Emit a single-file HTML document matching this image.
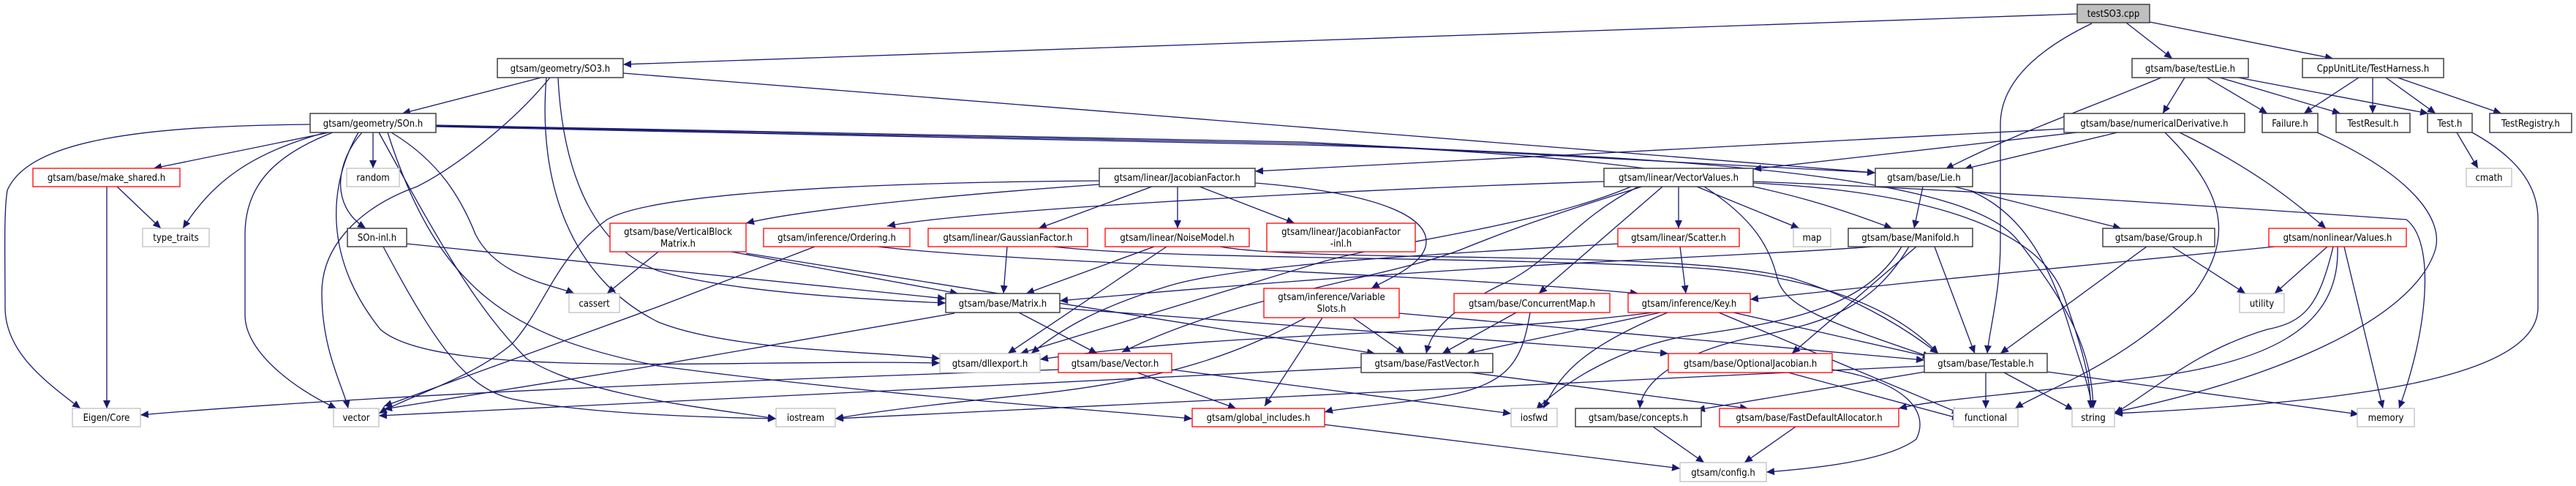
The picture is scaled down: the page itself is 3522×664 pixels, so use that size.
<!DOCTYPE html>
<html><head><meta charset="utf-8">
<style>
html,body{margin:0;padding:0;background:#fff;}
svg{display:block;}
text{font-family:"DejaVu Sans Condensed","DejaVu Sans","Liberation Sans",sans-serif;font-size:13px;fill:#000;}
.e{fill:none;stroke:#191970;stroke-width:1.3;marker-end:url(#a);}
.n{fill:#fff;stroke:#404040;stroke-width:1.5;}
.r{fill:#fff;stroke:#ff0000;stroke-width:1.3;}
.g{fill:#fff;stroke:#bfbfbf;stroke-width:1.3;}
</style></head>
<body>
<svg width="3522" height="664" viewBox="0 0 3522 664" xmlns="http://www.w3.org/2000/svg">
<defs>
<marker id="a" markerUnits="userSpaceOnUse" markerWidth="12" markerHeight="10" refX="11" refY="5" orient="auto">
<path d="M0,0 L11,5 L0,10 z" fill="#191970"/>
</marker>
</defs>
<g>
<!-- edges -->
<path class="e" d="M2840,19 L852,88"/>
<path class="e" d="M2907,31 L2970,80"/>
<path class="e" d="M2939,30 L3190,80"/>
<path class="e" d="M2860,32 C2760,80 2735,130 2735,170 L2735,330 C2735,400 2720,450 2717,483"/>
<path class="e" d="M740,106 L550,155"/>
<path class="e" d="M752,106 C700,170 620,230 570,255 C500,280 440,330 440,400 C440,480 470,530 476,558"/>
<path class="e" d="M747,106 C735,250 780,380 900,440 C1000,480 1200,480 1285,490"/>
<path class="e" d="M763,106 C770,250 820,340 900,370 C1000,400 1200,410 1293,414"/>
<path class="e" d="M852,100 L2564,236"/>
<path class="e" d="M424,170 C200,172 40,190 10,260 C5,290 7,350 7,420 C7,480 60,520 110,558"/>
<path class="e" d="M450,181 L210,230"/>
<path class="e" d="M445,181 C340,210 290,250 250,312"/>
<path class="e" d="M455,181 C380,210 335,250 335,320 L335,430 C335,480 400,530 460,558"/>
<path class="e" d="M495,181 C460,220 450,280 500,312"/>
<path class="e" d="M510,181 L510,230"/>
<path class="e" d="M535,181 C600,220 630,270 650,320 C680,380 760,390 785,401"/>
<path class="e" d="M518,181 C600,330 650,420 720,490 C800,540 950,555 1061,572"/>
<path class="e" d="M490,181 C450,250 440,350 520,450 C600,520 1000,490 1285,496"/>
<path class="e" d="M530,181 C600,400 700,460 900,500 C1200,540 1500,560 1630,572"/>
<path class="e" d="M596,171 L1780,194 L2564,236"/>
<path class="e" d="M596,172 L1780,196 C2300,215 2450,260 2587,312"/>
<path class="e" d="M596,173 L1780,198 C2400,215 2700,250 2760,330 C2830,420 2860,480 2862,558"/>
<path class="e" d="M146,255 L146,558"/>
<path class="e" d="M160,255 L220,312"/>
<path class="e" d="M556,333 L1293,408"/>
<path class="e" d="M524,337 C600,480 640,530 700,545 C800,565 950,570 1061,572"/>
<path class="e" d="M1503,252 C1250,270 1080,290 1020,305"/>
<path class="e" d="M1503,247 C1100,250 880,270 830,300 C760,350 745,420 700,470 C640,520 560,540 518,565"/>
<path class="e" d="M1575,255 L1420,312"/>
<path class="e" d="M1610,255 L1610,312"/>
<path class="e" d="M1640,255 L1770,305"/>
<path class="e" d="M1716,250 C1900,265 1950,300 1950,330 C1950,360 1900,380 1875,394"/>
<path class="e" d="M1000,344 L1310,401"/>
<path class="e" d="M900,344 L830,401"/>
<path class="e" d="M1020,346 L1880,483"/>
<path class="e" d="M1114,337 L900,419 L525,555"/>
<path class="e" d="M1200,337 C1400,360 1900,370 2240,401"/>
<path class="e" d="M1377,337 L1372,401"/>
<path class="e" d="M1440,337 C1600,355 2000,350 2300,365 C2500,375 2600,430 2650,483"/>
<path class="e" d="M1578,337 L1403,401"/>
<path class="e" d="M1595,337 L1378,483"/>
<path class="e" d="M1668,337 C1800,360 2300,340 2450,380 C2550,410 2620,460 2650,483"/>
<path class="e" d="M1393,427 L1500,483"/>
<path class="e" d="M1305,428 L880,502 L525,559"/>
<path class="e" d="M1449,421 L2281,483"/>
<path class="e" d="M1555,509 L1690,558"/>
<path class="e" d="M1447,505 C1000,520 500,540 192,567"/>
<path class="e" d="M1602,505 L2066,565"/>
<path class="e" d="M1850,434 L1920,483"/>
<path class="e" d="M1808,434 L1729,555"/>
<path class="e" d="M1785,434 C1700,480 1600,520 1400,540 C1250,555 1180,565 1142,572"/>
<path class="e" d="M1913,428 L2631,492"/>
<path class="e" d="M2193,248 C1800,260 1300,290 1213,309"/>
<path class="e" d="M2295,255 L2295,312"/>
<path class="e" d="M2320,255 L2460,312"/>
<path class="e" d="M2273,255 L2104,401"/>
<path class="e" d="M2240,255 C2150,300 2120,360 2050,390 C1970,430 1955,460 1950,483"/>
<path class="e" d="M2245,255 C2100,300 2050,320 2000,340 C1900,380 1700,400 1534,481"/>
<path class="e" d="M2230,255 C2100,310 1900,330 1800,360 C1600,420 1500,450 1395,483"/>
<path class="e" d="M2330,255 C2400,300 2420,340 2430,380 C2440,420 2500,440 2640,488"/>
<path class="e" d="M2397,250 C2600,260 2780,300 2820,400 C2845,470 2860,520 2858,558"/>
<path class="e" d="M2397,248 C2700,260 3000,280 3290,300 C3330,330 3320,450 3280,558"/>
<path class="e" d="M2629,255 L2617,312"/>
<path class="e" d="M2672,255 L2900,312"/>
<path class="e" d="M2697,262 C2760,290 2800,350 2830,450 C2845,500 2858,530 2860,558"/>
<path class="e" d="M2560,337 C2400,350 2000,360 1449,411"/>
<path class="e" d="M2645,337 L2700,483"/>
<path class="e" d="M2620,337 L2450,483"/>
<path class="e" d="M2610,337 C2560,420 2500,440 2400,460 C2300,480 2245,520 2242,558"/>
<path class="e" d="M2600,337 C2550,420 2450,440 2300,460 C2200,480 2130,530 2100,560"/>
<path class="e" d="M2935,337 L2735,483"/>
<path class="e" d="M2970,337 L3070,401"/>
<path class="e" d="M3110,337 L2622,385 L2393,409"/>
<path class="e" d="M3182,337 L3110,401"/>
<path class="e" d="M3190,337 C3170,420 3150,440 3100,450 C3000,480 2950,530 2891,565"/>
<path class="e" d="M3205,337 L3258,558"/>
<path class="e" d="M3196,337 C3200,450 3100,500 2900,520 C2750,540 2650,545 2596,558"/>
<path class="e" d="M2822,176 L1716,234"/>
<path class="e" d="M2840,181 L2397,231"/>
<path class="e" d="M2895,181 L2685,231"/>
<path class="e" d="M2980,181 C3080,230 3130,270 3180,312"/>
<path class="e" d="M2960,181 C3050,270 3050,330 3000,400 C2900,500 2800,530 2755,558"/>
<path class="e" d="M2987,106 L2957,155"/>
<path class="e" d="M2955,106 C2850,150 2760,180 2660,231"/>
<path class="e" d="M3017,106 L3100,155"/>
<path class="e" d="M3035,106 L3200,155"/>
<path class="e" d="M3060,106 L3320,155"/>
<path class="e" d="M3225,106 L3150,155"/>
<path class="e" d="M3244,106 L3244,155"/>
<path class="e" d="M3262,106 L3330,155"/>
<path class="e" d="M3278,106 L3420,155"/>
<path class="e" d="M3359,181 L3388,230"/>
<path class="e" d="M3380,181 C3450,220 3470,260 3470,300 L3470,420 C3470,520 3200,550 2891,565"/>
<path class="e" d="M3168,181 C3300,240 3340,300 3330,340 C3300,440 3100,520 2891,563"/>
<path class="e" d="M2297,337 L2305,401"/>
<path class="e" d="M2212,333 C2000,345 1700,360 1600,390 C1500,420 1450,450 1410,483"/>
<path class="e" d="M2073,427 L1972,483"/>
<path class="e" d="M2092,427 C2080,500 2060,530 1950,545 C1880,555 1830,558 1811,563"/>
<path class="e" d="M2260,427 C2000,460 1700,450 1422,491"/>
<path class="e" d="M2270,427 L2005,483"/>
<path class="e" d="M2370,427 L2640,488"/>
<path class="e" d="M2280,427 C2150,480 2130,520 2110,558"/>
<path class="e" d="M2350,427 L2680,565"/>
<path class="e" d="M2010,509 L2390,558"/>
<path class="e" d="M1861,502 L518,568"/>
<path class="e" d="M2445,509 L2680,572"/>
<path class="e" d="M2505,505 C2600,520 2640,560 2620,600 C2580,630 2480,640 2415,645"/>
<path class="e" d="M2715,509 L2715,558"/>
<path class="e" d="M2740,509 L2835,560"/>
<path class="e" d="M2799,508 L3225,566"/>
<path class="e" d="M2631,500 C2300,520 1500,550 1142,572"/>
<path class="e" d="M2650,505 L2320,560"/>
<path class="e" d="M2260,583 L2330,632"/>
<path class="e" d="M2455,583 L2385,632"/>
<path class="e" d="M1810,580 L2297,640"/>
</g>
<g>
<!-- nodes -->
<rect x="2840" y="6" width="99" height="25" fill="#bfbfbf" stroke="#404040" stroke-width="1.5"/><text x="2889.5" y="23" text-anchor="middle">testSO3.cpp</text>
<rect class="n" x="680" y="80" width="172" height="26"/><text x="766" y="98" text-anchor="middle">gtsam/geometry/SO3.h</text>
<rect class="n" x="2915" y="80" width="159" height="26"/><text x="2994.5" y="98" text-anchor="middle">gtsam/base/testLie.h</text>
<rect class="n" x="3148" y="80" width="193" height="26"/><text x="3244.5" y="98" text-anchor="middle">CppUnitLite/TestHarness.h</text>
<rect class="n" x="424" y="155" width="172" height="26"/><text x="510" y="173" text-anchor="middle">gtsam/geometry/SOn.h</text>
<rect class="n" x="2822" y="155" width="247" height="26"/><text x="2945.5" y="173" text-anchor="middle">gtsam/base/numericalDerivative.h</text>
<rect class="n" x="3093" y="155" width="76" height="26"/><text x="3131" y="173" text-anchor="middle">Failure.h</text>
<rect class="n" x="3194" y="155" width="101" height="26"/><text x="3244.5" y="173" text-anchor="middle">TestResult.h</text>
<rect class="n" x="3319" y="155" width="61" height="26"/><text x="3349.5" y="173" text-anchor="middle">Test.h</text>
<rect class="n" x="3404" y="155" width="112" height="26"/><text x="3460" y="173" text-anchor="middle">TestRegistry.h</text>
<rect class="r" x="45" y="230" width="201" height="25"/><text x="145.5" y="247" text-anchor="middle">gtsam/base/make_shared.h</text>
<rect class="g" x="474" y="230" width="72" height="25"/><text x="510" y="247" text-anchor="middle">random</text>
<rect class="n" x="1503" y="230" width="213" height="25"/><text x="1609.5" y="247" text-anchor="middle">gtsam/linear/JacobianFactor.h</text>
<rect class="n" x="2193" y="230" width="204" height="25"/><text x="2295" y="247" text-anchor="middle">gtsam/linear/VectorValues.h</text>
<rect class="n" x="2564" y="230" width="133" height="25"/><text x="2630.5" y="247" text-anchor="middle">gtsam/base/Lie.h</text>
<rect class="g" x="3372" y="230" width="62" height="25"/><text x="3403" y="247" text-anchor="middle">cmath</text>
<rect class="g" x="195" y="312" width="91" height="25"/><text x="240.5" y="329" text-anchor="middle">type_traits</text>
<rect class="n" x="475" y="312" width="81" height="25"/><text x="515.5" y="329" text-anchor="middle">SOn-inl.h</text>
<rect class="r" x="834" y="305" width="186" height="39"/><text x="927" y="321" text-anchor="middle">gtsam/base/VerticalBlock</text><text x="927" y="337" text-anchor="middle">Matrix.h</text>
<rect class="r" x="1044" y="312" width="200" height="25"/><text x="1144" y="329" text-anchor="middle">gtsam/inference/Ordering.h</text>
<rect class="r" x="1269" y="312" width="218" height="25"/><text x="1378" y="329" text-anchor="middle">gtsam/linear/GaussianFactor.h</text>
<rect class="r" x="1511" y="312" width="197" height="25"/><text x="1609.5" y="329" text-anchor="middle">gtsam/linear/NoiseModel.h</text>
<rect class="r" x="1732" y="305" width="203" height="39"/><text x="1833.5" y="321" text-anchor="middle">gtsam/linear/JacobianFactor</text><text x="1833.5" y="337" text-anchor="middle">-inl.h</text>
<rect class="r" x="2212" y="312" width="166" height="25"/><text x="2295" y="329" text-anchor="middle">gtsam/linear/Scatter.h</text>
<rect class="g" x="2452" y="312" width="51" height="25"/><text x="2477.5" y="329" text-anchor="middle">map</text>
<rect class="n" x="2527" y="312" width="170" height="25"/><text x="2612" y="329" text-anchor="middle">gtsam/base/Manifold.h</text>
<rect class="n" x="2875" y="312" width="153" height="25"/><text x="2951.5" y="329" text-anchor="middle">gtsam/base/Group.h</text>
<rect class="r" x="3102" y="312" width="188" height="25"/><text x="3196" y="329" text-anchor="middle">gtsam/nonlinear/Values.h</text>
<rect class="g" x="778" y="401" width="69" height="26"/><text x="812.5" y="419" text-anchor="middle">cassert</text>
<rect class="n" x="1293" y="401" width="156" height="26"/><text x="1371" y="419" text-anchor="middle">gtsam/base/Matrix.h</text>
<rect class="r" x="1728" y="394" width="185" height="40"/><text x="1820.5" y="410" text-anchor="middle">gtsam/inference/Variable</text><text x="1820.5" y="426" text-anchor="middle">Slots.h</text>
<rect class="r" x="1988" y="401" width="213" height="26"/><text x="2094.5" y="419" text-anchor="middle">gtsam/base/ConcurrentMap.h</text>
<rect class="r" x="2226" y="401" width="167" height="26"/><text x="2309.5" y="419" text-anchor="middle">gtsam/inference/Key.h</text>
<rect class="g" x="3062" y="401" width="61" height="26"/><text x="3092.5" y="419" text-anchor="middle">utility</text>
<rect class="g" x="1285" y="483" width="137" height="26"/><text x="1353.5" y="501" text-anchor="middle">gtsam/dllexport.h</text>
<rect class="r" x="1447" y="483" width="155" height="26"/><text x="1524.5" y="501" text-anchor="middle">gtsam/base/Vector.h</text>
<rect class="n" x="1861" y="483" width="180" height="26"/><text x="1951" y="501" text-anchor="middle">gtsam/base/FastVector.h</text>
<rect class="r" x="2281" y="483" width="224" height="26"/><text x="2393" y="501" text-anchor="middle">gtsam/base/OptionalJacobian.h</text>
<rect class="n" x="2631" y="483" width="168" height="26"/><text x="2715" y="501" text-anchor="middle">gtsam/base/Testable.h</text>
<rect class="g" x="99" y="558" width="93" height="25"/><text x="145.5" y="575" text-anchor="middle">Eigen/Core</text>
<rect class="g" x="456" y="558" width="62" height="25"/><text x="487" y="575" text-anchor="middle">vector</text>
<rect class="g" x="1061" y="558" width="81" height="25"/><text x="1101.5" y="575" text-anchor="middle">iostream</text>
<rect class="r" x="1630" y="558" width="181" height="25"/><text x="1720.5" y="575" text-anchor="middle">gtsam/global_includes.h</text>
<rect class="g" x="2066" y="558" width="63" height="25"/><text x="2097.5" y="575" text-anchor="middle">iosfwd</text>
<rect class="n" x="2154" y="558" width="172" height="25"/><text x="2240" y="575" text-anchor="middle">gtsam/base/concepts.h</text>
<rect class="r" x="2351" y="558" width="245" height="25"/><text x="2473.5" y="575" text-anchor="middle">gtsam/base/FastDefaultAllocator.h</text>
<rect class="g" x="2671" y="558" width="88" height="25"/><text x="2715" y="575" text-anchor="middle">functional</text>
<rect class="g" x="2833" y="558" width="58" height="25"/><text x="2862" y="575" text-anchor="middle">string</text>
<rect class="g" x="3223" y="558" width="78" height="25"/><text x="3262" y="575" text-anchor="middle">memory</text>
<rect class="g" x="2297" y="632" width="118" height="26"/><text x="2356" y="650" text-anchor="middle">gtsam/config.h</text>
</g>
</svg>
</body></html>
